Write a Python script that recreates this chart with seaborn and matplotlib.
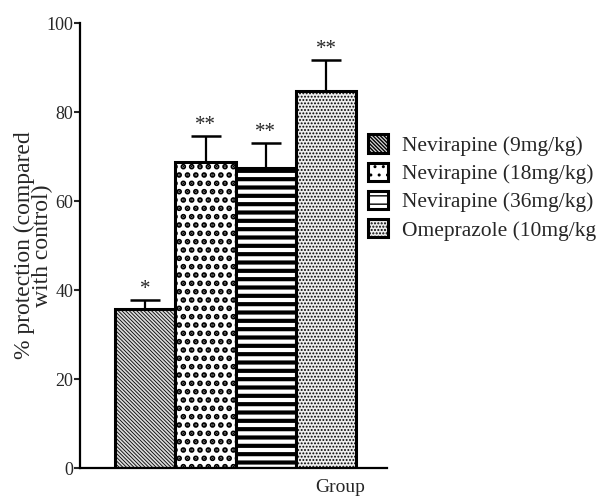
import numpy as np
import pandas as pd
import matplotlib
matplotlib.use('Agg')
import matplotlib.pyplot as plt
import seaborn as sns

# values
groups = ['Nevirapine (9mg/kg)', 'Nevirapine (18mg/kg)',
          'Nevirapine (36mg/kg)', 'Omeprazole (10mg/kg']
protection = [35.8, 68.8, 67.4, 84.7]
sem = [2.0, 5.8, 5.6, 7.0]
stars = ['*', '**', '**', '**']
y_ticks = [0, 20, 40, 60, 80, 100]

face_colors = ['#dadada', 'white', 'white', '#eeeeee']
hatches = ['\\' * 9, '..', '--', '.....']
hatch_widths = [0.6, 2.8, 3.0, 0.9]

sns.set_style('white')
plt.rcParams['font.family'] = ['Liberation Serif', 'DejaVu Serif']

df = pd.DataFrame({'group': groups, 'protection': protection})

fig = plt.figure(figsize=(6.03, 4.98), dpi=100)
ax = fig.add_axes([0.1327, 0.0602, 0.5093, 0.8936])

sns.barplot(data=df, x='group', y='protection', hue='group',
            palette=face_colors, width=1.0, edgecolor='black',
            linewidth=2.2, legend=False, ax=ax)

bars = ax.patches[:len(groups)]
for bar, h, hw in zip(bars, hatches, hatch_widths):
    bar.set_hatch(h)
    if hasattr(bar, 'set_hatch_linewidth'):
        bar.set_hatch_linewidth(hw)

centers = [b.get_x() + b.get_width() / 2 for b in bars]
ax.errorbar(centers, protection, yerr=[np.zeros(len(sem)), sem],
            fmt='none', ecolor='black', elinewidth=1.6, capsize=11,
            capthick=1.8, zorder=1)

for xc, v, e, s in zip(centers, protection, sem, stars):
    ax.text(xc, v + e + 0.2, s, ha='center', va='bottom', fontsize=15)

ax.set_ylim(0, 100)
ax.set_xlim(-1.08, 4.01)
ax.set_yticks(y_ticks)
ax.set_yticklabels([str(t) for t in y_ticks], fontsize=13)
ax.tick_params(axis='y', direction='out', length=4, width=1.5, pad=1, left=True)
ax.tick_params(axis='x', bottom=False, labelbottom=False)
sns.despine(ax=ax)
for sp in ['left', 'bottom']:
    ax.spines[sp].set_linewidth(1.6)
    ax.spines[sp].set_color('black')

ax.set_ylabel('% protection (compared\nwith control)', fontsize=17,
              linespacing=0.8)
ax.yaxis.set_label_coords(-0.152, 0.5)
ax.yaxis.label.set_va('center')
ax.set_xlabel('Group', fontsize=14)
ax.xaxis.set_label_coords(0.847, -0.025)
ax.xaxis.label.set_va('top')

ax.legend(bars, groups, loc='center left', bbox_to_anchor=(0.61, 0.6235),
          bbox_transform=fig.transFigure, frameon=False, fontsize=15.5,
          handlelength=0.95, handleheight=0.95, handletextpad=0.65,
          labelspacing=0.3, borderpad=0, borderaxespad=0)

fig.savefig('out.png', dpi=100)
